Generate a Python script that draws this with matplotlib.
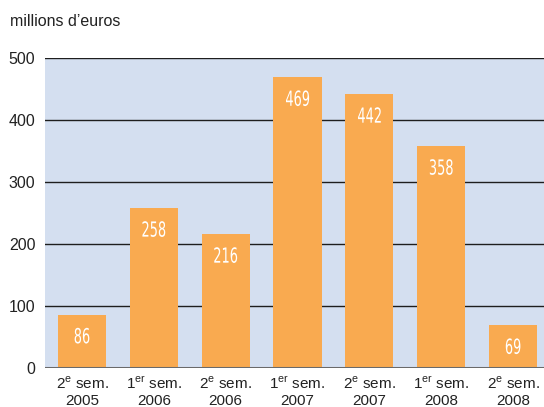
import matplotlib
matplotlib.use("Agg")
from matplotlib import pyplot as plt
from matplotlib.textpath import TextPath
from matplotlib.patches import PathPatch
from matplotlib.font_manager import FontProperties
from matplotlib.transforms import Affine2D, ScaledTranslation

periods = ["2$^{\\rm e}$ sem.\n2005", "1$^{\\rm er}$ sem.\n2006", "2$^{\\rm e}$ sem.\n2006",
           "1$^{\\rm er}$ sem.\n2007", "2$^{\\rm e}$ sem.\n2007", "1$^{\\rm er}$ sem.\n2008",
           "2$^{\\rm e}$ sem.\n2008"]
values = [86, 258, 216, 469, 442, 358, 69]
yticks = [0, 100, 200, 300, 400, 500]

plt.rcParams['font.family'] = ['Liberation Sans', 'DejaVu Sans']
plt.rcParams['mathtext.fontset'] = 'custom'
plt.rcParams['mathtext.rm'] = 'Liberation Sans'

DPI = 100
fig = plt.figure(figsize=(5.44, 4.07), dpi=DPI)
ax = fig.add_axes([0.0827, 0.0958, 0.9173, 0.7617])
ax.set_facecolor('#d4dff0')

x = list(range(len(values)))
ax.bar(x, values, width=0.67, color='#f9aa50', zorder=3)

# condensed-looking value labels: squeeze a text path horizontally
fp = FontProperties(family='DejaVu Sans')
for xi, v in zip(x, values):
    tp = TextPath((0, 0), str(v), size=15, prop=fp)
    ext = tp.get_extents()
    cx = (ext.x0 + ext.x1) / 2
    cy = (ext.y0 + ext.y1) / 2
    tr = (Affine2D().translate(-cx, -cy).scale(0.62 * DPI / 72, DPI / 72)
          + ScaledTranslation(xi, v, ax.transData)
          + Affine2D().translate(0, -21))
    ax.add_patch(PathPatch(tp, transform=tr, facecolor='white', edgecolor='none',
                           zorder=4, clip_on=False))

for y in yticks[1:]:
    ax.axhline(y, color='#1e1e1e', lw=1.0, zorder=1)
ax.axhline(0, color='#6a6a6a', lw=2.2, zorder=5)

ax.set_xlim(-0.515, 6.43)
ax.set_ylim(0, 500)
ax.set_yticks(yticks)
ax.set_yticklabels([str(t) for t in yticks], fontsize=11.5, color='#222222')
ax.set_xticks(x)
ax.set_xticklabels(periods, fontsize=11, color='#222222', linespacing=1.2)
ax.tick_params(length=0, pad=7)
ax.tick_params(axis='x', pad=5)
for s in ax.spines.values():
    s.set_visible(False)

fig.text(0.018, 0.948, "millions d\u2019euros", fontsize=11.5, color='#222222', va='center')

fig.savefig("out.png", dpi=DPI)
